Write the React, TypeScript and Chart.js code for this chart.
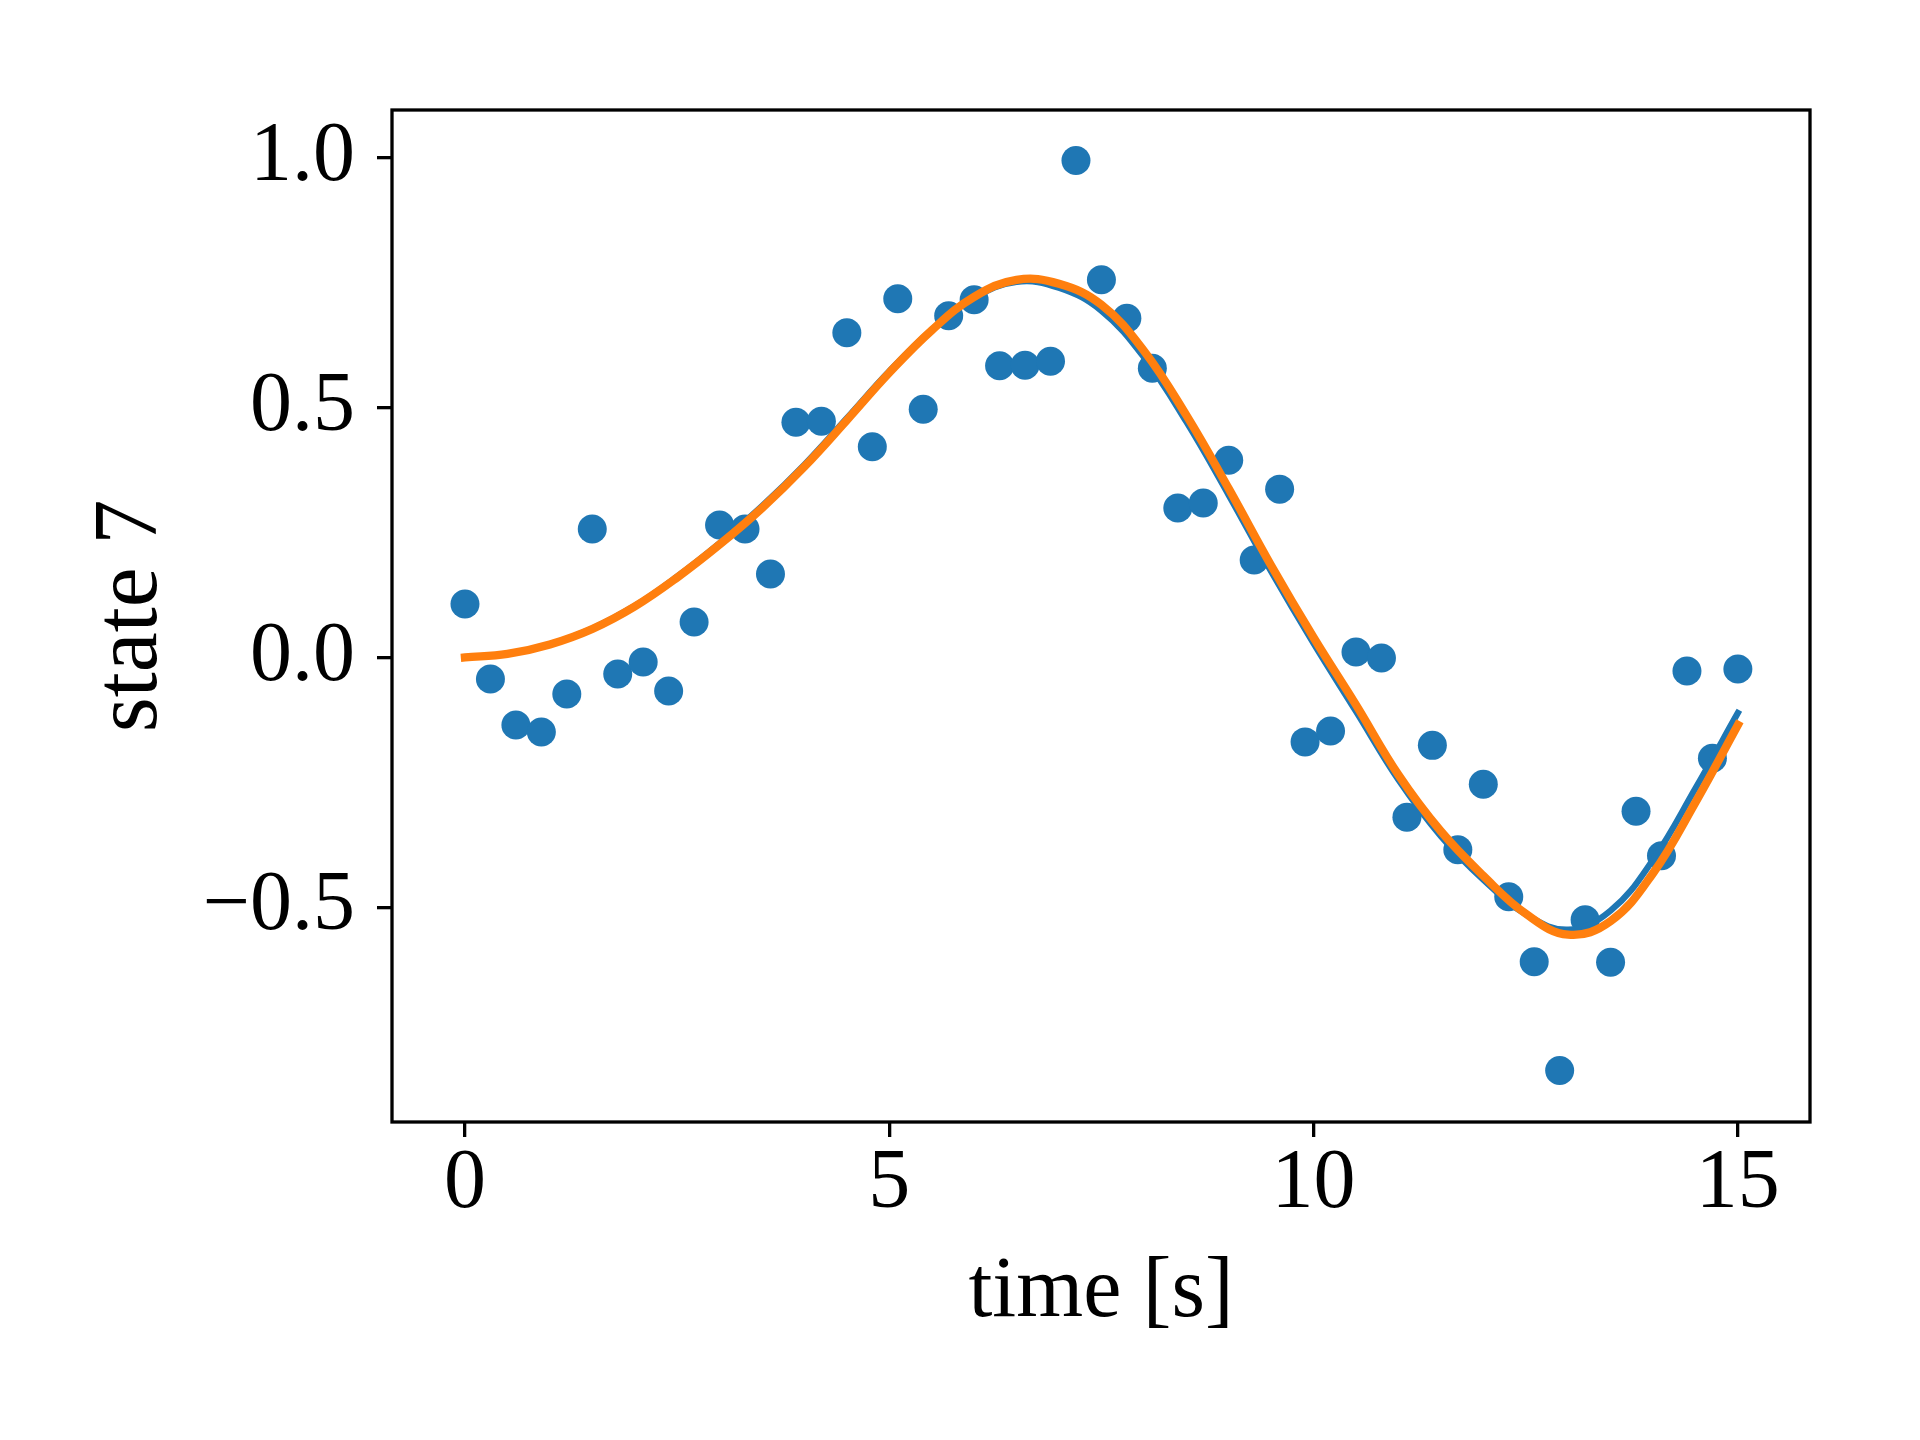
import React, { useEffect, useRef } from 'react';
import { Chart, registerables } from 'chart.js';

Chart.register(...registerables);

// measured samples (scatter)
const sampleTimes = [
  0, 0.3, 0.6, 0.9, 1.2, 1.5, 1.8, 2.1, 2.4, 2.7,
  3.0, 3.3, 3.6, 3.9, 4.2, 4.5, 4.8, 5.1, 5.4, 5.7,
  6.0, 6.3, 6.6, 6.9, 7.2, 7.5, 7.8, 8.1, 8.4, 8.7,
  9.0, 9.3, 9.6, 9.9, 10.2, 10.5, 10.8, 11.1, 11.4, 11.7,
  12.0, 12.3, 12.6, 12.9, 13.2, 13.5, 13.8, 14.1, 14.4, 14.7, 15.0,
];
const measuredState = [
  0.107, -0.043, -0.135, -0.149, -0.073, 0.257, -0.033, -0.009, -0.067, 0.071,
  0.265, 0.257, 0.167, 0.471, 0.473, 0.650, 0.422, 0.718, 0.497, 0.684,
  0.716, 0.584, 0.585, 0.593, 0.995, 0.756, 0.679, 0.579, 0.299, 0.309,
  0.395, 0.195, 0.337, -0.169, -0.147, 0.011, -0.001, -0.320, -0.176, -0.385,
  -0.254, -0.479, -0.609, -0.827, -0.525, -0.610, -0.308, -0.397, -0.027, -0.202, -0.023,
];

// smooth curves
const curveTimes = [
  0, 0.5, 1.0, 1.5, 2.0, 2.5, 3.0, 3.5, 4.0, 4.5,
  5.0, 5.5, 6.0, 6.5, 7.0, 7.5, 8.0, 8.5, 9.0, 9.5,
  10.0, 10.5, 11.0, 11.5, 12.0, 12.5, 13.0, 13.5, 14.0, 14.5, 15.0,
];
const blueCurve = [
  0.000, 0.007, 0.026, 0.058, 0.103, 0.162, 0.229, 0.303, 0.386, 0.479,
  0.573, 0.656, 0.720, 0.752, 0.740, 0.694, 0.601, 0.472, 0.325, 0.172,
  0.028, -0.108, -0.245, -0.358, -0.445, -0.514, -0.545, -0.507, -0.405, -0.262, -0.111,
];
const orangeCurve = [
  0.000, 0.007, 0.026, 0.057, 0.102, 0.160, 0.226, 0.299, 0.382, 0.475,
  0.570, 0.655, 0.722, 0.756, 0.748, 0.706, 0.614, 0.485, 0.338, 0.184,
  0.040, -0.095, -0.235, -0.348, -0.437, -0.513, -0.555, -0.528, -0.432, -0.290, -0.135,
];

const xTickValues = [0, 5, 10, 15];
const xTickLabels = ['0', '5', '10', '15'];
const yTickValues = [-0.5, 0, 0.5, 1.0];
const yTickLabels = ['\u22120.5', '0.0', '0.5', '1.0'];

const xLabel = 'time [s]';
const yLabel = 'state 7';

const BLUE = '#1f77b4';
const ORANGE = '#ff7f0e';
const FONT = "'Liberation Serif', 'DejaVu Serif', serif";

const framePlugin = {
  id: 'frame',
  afterDraw(chart: any) {
    const { ctx, chartArea } = chart;
    const { left, top, right, bottom } = chartArea;
    ctx.save();
    ctx.strokeStyle = '#000';
    ctx.lineWidth = 3.3;
    ctx.strokeRect(left, top, right - left, bottom - top);
    ctx.restore();
  },
};

export default function App() {
  const ref = useRef<HTMLCanvasElement | null>(null);

  useEffect(() => {
    document.body.style.margin = '0';
    const canvas = ref.current;
    if (!canvas) return;

    const toXY = (xs: number[], ys: number[]) => xs.map((x, i) => ({ x, y: ys[i] }));

    const tickGrid = {
      display: true,
      drawOnChartArea: false,
      drawTicks: true,
      tickLength: 15,
      tickWidth: 3.3,
      tickColor: '#000',
      lineWidth: 3.3,
      color: '#000',
    };

    const chart = new Chart(canvas, {
      type: 'line',
      data: {
        datasets: [
          {
            label: 'orange',
            data: toXY(curveTimes, orangeCurve),
            borderColor: ORANGE,
            backgroundColor: ORANGE,
            borderWidth: 8.3,
            pointRadius: 0,
            tension: 0.4,
            borderCapStyle: 'square',
            borderJoinStyle: 'round',
            fill: false,
            order: 0,
          } as any,
          {
            label: 'blue',
            data: toXY(curveTimes, blueCurve),
            borderColor: BLUE,
            backgroundColor: BLUE,
            borderWidth: 6.25,
            pointRadius: 0,
            tension: 0.4,
            borderCapStyle: 'square',
            borderJoinStyle: 'round',
            fill: false,
            order: 1,
          } as any,
          {
            label: 'samples',
            data: toXY(sampleTimes, measuredState),
            showLine: false,
            pointRadius: 14.5,
            pointHoverRadius: 14.5,
            pointBorderWidth: 0,
            pointBackgroundColor: BLUE,
            borderColor: BLUE,
            backgroundColor: BLUE,
            order: 2,
          } as any,
        ],
      },
      options: {
        animation: false,
        responsive: false,
        devicePixelRatio: 1,
        events: [],
        layout: { padding: { top: 110, right: 110, left: 0, bottom: 0 } },
        plugins: {
          legend: { display: false },
          tooltip: { enabled: false },
        },
        scales: {
          x: {
            type: 'linear',
            min: -0.86,
            max: 15.85,
            border: { display: false },
            grid: tickGrid as any,
            afterBuildTicks: (axis: any) => {
              axis.ticks = xTickValues.map((v) => ({ value: v }));
            },
            afterFit: (axis: any) => {
              axis.height = 318;
            },
            ticks: {
              autoSkip: false,
              maxRotation: 0,
              minRotation: 0,
              padding: 6,
              color: '#000',
              font: { family: FONT, size: 84, lineHeight: 1 },
              callback: (value: any) => {
                const i = xTickValues.indexOf(Number(value));
                return i >= 0 ? xTickLabels[i] : '';
              },
            },
            title: {
              display: true,
              text: xLabel,
              color: '#000',
              font: { family: FONT, size: 86, lineHeight: 1.2 },
              padding: { top: 0, bottom: 95 },
            },
          },
          y: {
            type: 'linear',
            min: -0.93,
            max: 1.096,
            border: { display: false },
            grid: tickGrid as any,
            afterBuildTicks: (axis: any) => {
              axis.ticks = yTickValues.map((v) => ({ value: v }));
            },
            afterFit: (axis: any) => {
              axis.width = 392;
            },
            ticks: {
              autoSkip: false,
              padding: 22,
              color: '#000',
              font: { family: FONT, size: 84, lineHeight: 1 },
              callback: (value: any) => {
                const i = yTickValues.findIndex((v) => Math.abs(v - Number(value)) < 1e-9);
                return i >= 0 ? yTickLabels[i] : '';
              },
            },
            title: {
              display: true,
              text: yLabel,
              color: '#000',
              font: { family: FONT, size: 90, lineHeight: 1.2 },
              padding: { top: 78, bottom: 0 },
            },
          },
        },
      },
      plugins: [framePlugin],
    });

    return () => {
      chart.destroy();
    };
  }, []);

  return (
    <canvas
      ref={ref}
      width={1920}
      height={1440}
      style={{ display: 'block', width: '1920px', height: '1440px' }}
    />
  );
}
